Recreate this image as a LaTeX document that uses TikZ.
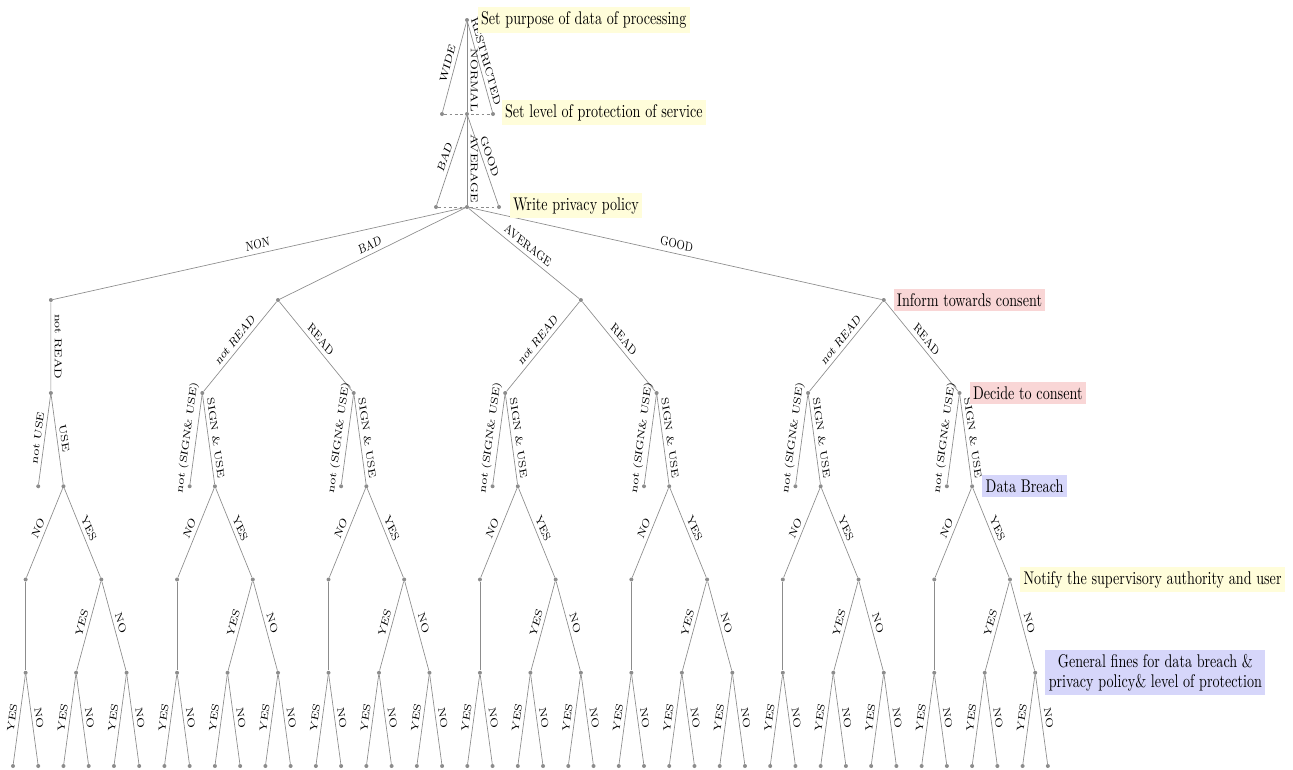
\documentclass[tikz,border=0pt]{standalone}
\usepackage{fontspec}
\usetikzlibrary{calc}
\newcommand\strf{1.3}
\definecolor{ybg}{RGB}{255,253,218}
\definecolor{pbg}{RGB}{249,214,214}
\definecolor{bbg}{RGB}{214,214,250}
\definecolor{edgec}{RGB}{140,140,140}
\tikzset{
  dot/.style={circle, fill=edgec, inner sep=0pt, minimum size=3pt},
  edge/.style={draw=edgec, line width=0.5pt},
  infoset/.style={draw=edgec, line width=0.5pt, dash pattern=on 2pt off 2pt},
  lab/.style={anchor=south, inner sep=2.5pt, font=\fontsize{7.5}{9}\selectfont, text=black},
  pbox/.style={anchor=west, yscale=\strf, inner sep=2.5pt, font=\fontsize{10.6}{11.3}\selectfont, text=black},
}
% #1 pos, #2 from, #3 to, #4 label
\newcommand\br[4][0.5]{%
  \draw[edge] let \p1=(#2), \p2=(#3),
     \n1={atan2((\y2-\y1)/\strf,\x2-\x1)},
     \n2={(\n1 < -90.5) ? (\n1+180) : ((\n1 > 90.5) ? (\n1-180) : (\n1))},
     \n3={cos(\n2)}, \n4={\strf*sin(\n2)}, \n5={-sin(\n2)}, \n6={\strf*cos(\n2)}
   in (#2) -- node[lab, pos=#1, cm={\n3,\n4,\n5,\n6,(0,0)}] {#4} (#3);}
\begin{document}
\begin{tikzpicture}[x=0.75pt, y=-0.75pt]
\useasboundingbox (0,0) rectangle (1293,769);
% upper part of the tree
\node[dot] (P0) at (467,20) {};
\node[dot] (P1w) at (442,114) {};
\node[dot] (P1n) at (467,114) {};
\node[dot] (P1r) at (493,114) {};
\node[dot] (P2b) at (436,207) {};
\node[dot] (P2a) at (467,207) {};
\node[dot] (P2g) at (499,207) {};
\node[dot] (q0) at (50.9,300) {};
\node[dot] (q1) at (278,300) {};
\node[dot] (q2) at (580.9,300) {};
\node[dot] (q3) at (883.8,300) {};
% seven lower subtrees
\foreach \g in {0,...,6}{
  \pgfmathsetmacro\bx{13+151.44*\g}
  \node[dot] (m\g) at ({\bx+37.86},393) {};
  \node[dot] (nu\g) at ({\bx+25.24},486.25) {};
  \node[dot] (u\g) at ({\bx+50.48},486.25) {};
  \node[dot] (x\g) at ({\bx+12.62},579.5) {};
  \node[dot] (y\g) at ({\bx+88.34},579.5) {};
  \node[dot] (c\g) at ({\bx+12.62},672.75) {};
  \node[dot] (d\g) at ({\bx+63.1},672.75) {};
  \node[dot] (e\g) at ({\bx+113.58},672.75) {};
  \foreach \k in {0,...,5}{
    \node[dot] (l\g-\k) at ({\bx+25.24*\k},766) {};
  }
}
% branches
\br{P0}{P1w}{WIDE}
\br[0.65]{P0}{P1n}{NORMAL}
\br[0.47]{P0}{P1r}{RESTRICTED}
\draw[infoset] (P1w) -- (P1r);
\br{P1n}{P2b}{BAD}
\br[0.59]{P1n}{P2a}{AVERAGE}
\br{P1n}{P2g}{GOOD}
\draw[infoset] (P2b) -- (P2g);
\br{P2a}{q0}{NON}
\br{P2a}{q1}{BAD}
\br{P2a}{q2}{AVERAGE}
\br{P2a}{q3}{GOOD}
\br{q0}{m0}{not READ}
\br{q1}{m1}{not READ}
\br{q1}{m2}{READ}
\br{q2}{m3}{not READ}
\br{q2}{m4}{READ}
\br{q3}{m5}{not READ}
\br{q3}{m6}{READ}
\foreach \g in {0,...,6}{
  \ifnum\g=0
    \br{m\g}{nu\g}{not USE}
    \br{m\g}{u\g}{USE}
  \else
    \br{m\g}{nu\g}{not (SIGN\& USE)}
    \br{m\g}{u\g}{SIGN \& USE}
  \fi
  \br{u\g}{x\g}{NO}
  \br{u\g}{y\g}{YES}
  \draw[edge] (x\g) -- (c\g);
  \br{y\g}{d\g}{YES}
  \br{y\g}{e\g}{NO}
  \br{c\g}{l\g-0}{YES}
  \br{c\g}{l\g-1}{NO}
  \br{d\g}{l\g-2}{YES}
  \br{d\g}{l\g-3}{NO}
  \br{e\g}{l\g-4}{YES}
  \br{e\g}{l\g-5}{NO}
}
% player / stage boxes
\node[pbox, fill=ybg] (t1) at ($(P0)+(10.5,0)$) {Set purpose of data of processing};
\node[pbox, fill=ybg] (t2) at ($(P1r)+(8.5,-1.5)$) {Set level of protection of service};
\node[pbox, fill=ybg] (t3) at ($(P2g)+(10.5,-1.5)$) {Write privacy policy};
\node[pbox, fill=pbg] (t4) at ($(q3)+(9.5,0)$) {Inform towards consent};
\node[pbox, fill=pbg] (t5) at ($(m6)+(10,0)$) {Decide to consent};
\node[pbox, fill=bbg] (t6) at ($(u6)+(10,0)$) {Data Breach};
\node[pbox, fill=ybg] (t7) at ($(y6)+(10,0)$) {Notify the supervisory authority and user};
\node[pbox, fill=bbg, align=center] (t8) at ($(e6)+(10,0)$) {General fines for data breach \&\\privacy policy\& level of protection};
\end{tikzpicture}
\end{document}
